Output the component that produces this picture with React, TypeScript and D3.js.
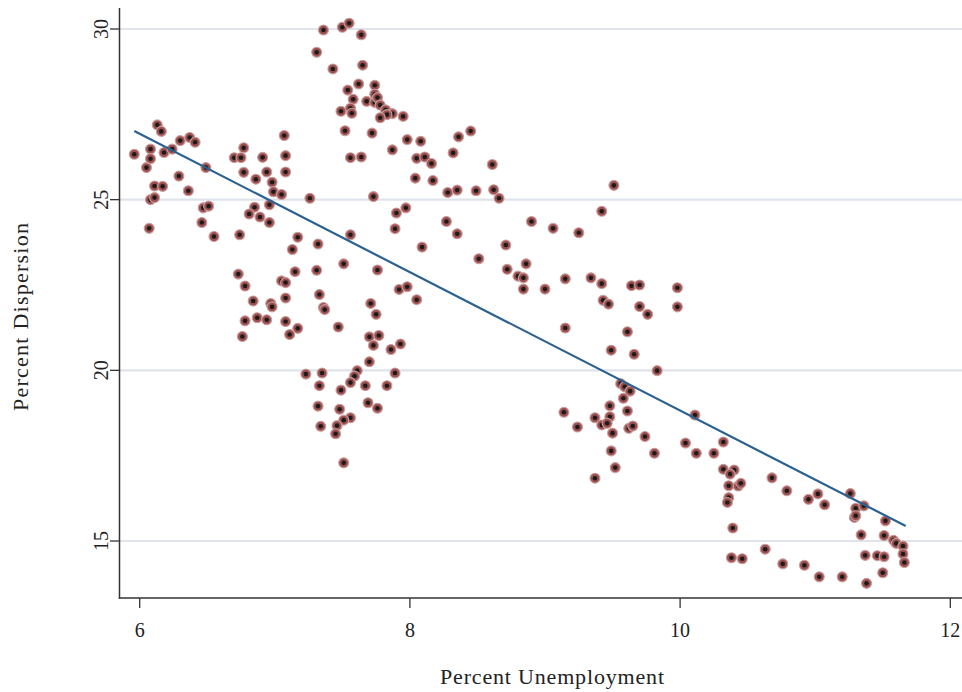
import React from "react";
import * as d3 from "d3";

const unemployment = [
  5.96, 6.05, 6.08, 6.08, 6.13, 6.16, 6.18, 6.24, 6.3, 6.37,
  6.41, 6.29, 6.49, 6.11, 6.17, 6.36, 6.08, 6.11, 6.07, 6.47,
  6.51, 6.46, 6.55, 6.7, 6.75, 6.77, 6.91, 7.07, 7.08, 7.08,
  6.77, 6.86, 6.94, 6.98, 6.99, 7.05, 6.96, 6.85, 6.81, 6.89,
  6.96, 6.74, 7.17, 7.13, 7.15, 6.73, 6.78, 7.05, 7.08, 6.84,
  7.08, 6.97, 6.98, 6.78, 6.87, 6.94, 7.08, 7.17, 6.76, 7.11,
  7.26, 7.31, 7.36, 7.5, 7.55, 7.64, 7.43, 7.65, 7.62, 7.74,
  7.54, 7.58, 7.68, 7.74, 7.74, 7.76, 7.78, 7.49, 7.56, 7.57,
  7.82, 7.87, 7.83, 7.78, 7.95, 7.52, 7.72, 7.87, 7.98, 8.08,
  8.36, 8.45, 8.32, 7.56, 7.64, 8.05, 8.11, 8.16, 8.04, 8.17,
  8.28, 8.35, 8.49, 7.73, 7.9, 7.97, 7.89, 8.27, 8.35, 8.09,
  8.51, 7.56, 7.32, 7.51, 7.76, 7.31, 7.92, 7.98, 8.05, 7.33,
  7.36, 7.37, 7.71, 7.75, 7.47, 7.7, 7.77, 7.73, 7.86, 7.93,
  7.7, 7.61, 7.59, 7.56, 7.23, 7.35, 7.89, 7.33, 7.49, 7.67,
  7.83, 7.32, 7.48, 7.69, 7.76, 7.34, 7.56, 7.51, 7.46, 7.45,
  7.51,
  8.61, 8.62, 8.66, 9.51, 9.42, 8.9, 9.06, 9.25, 8.71, 8.72,
  8.86, 8.8, 8.84, 8.84, 9.0, 9.15, 9.34, 9.42, 9.64, 9.7,
  9.98, 9.43, 9.47, 9.7, 9.76, 9.98, 9.15, 9.61, 9.49, 9.66,
  9.83, 9.56, 9.59, 9.63, 9.58, 9.48, 9.61, 9.14, 9.37, 9.48,
  9.42, 9.46, 9.24, 9.5, 9.62, 9.65, 9.74, 10.11, 10.04, 10.12,
  10.25, 10.32, 9.81, 9.49, 9.52, 9.37,
  10.32, 10.4, 10.37, 10.36, 10.43, 10.45, 10.36, 10.35, 10.39, 10.68,
  10.79, 10.95, 11.02, 11.07, 11.26, 11.3, 11.36, 11.29, 11.3, 11.52,
  11.34, 11.51, 11.58, 11.6, 11.65, 11.65, 11.66, 10.46, 10.38, 10.63,
  10.76, 10.92, 11.03, 11.2, 11.37, 11.46, 11.51, 11.5, 11.38,
];

const dispersion = [
  26.33, 25.94, 26.48, 26.2, 27.19, 27.0, 26.38, 26.48, 26.73, 26.82,
  26.68, 25.69, 25.94, 25.4, 25.39, 25.26, 25.0, 25.06, 24.16, 24.76,
  24.81, 24.33, 23.92, 26.23, 26.23, 26.52, 26.24, 26.88, 26.29, 25.81,
  25.8, 25.6, 25.81, 25.51, 25.23, 25.15, 24.85, 24.78, 24.58, 24.49,
  24.33, 23.97, 23.9, 23.54, 22.89, 22.82, 22.47, 22.62, 22.57, 22.03,
  22.12, 21.96, 21.86, 21.45, 21.54, 21.48, 21.43, 21.23, 20.99, 21.05,
  25.04, 29.32, 29.97, 30.05, 30.17, 29.83, 28.83, 28.94, 28.39, 28.35,
  28.21, 27.94, 27.88, 28.09, 27.85, 27.99, 27.77, 27.59, 27.68, 27.53,
  27.63, 27.52, 27.49, 27.4, 27.44, 27.02, 26.95, 26.46, 26.76, 26.71,
  26.84, 27.01, 26.37, 26.23, 26.25, 26.21, 26.25, 26.06, 25.63, 25.56,
  25.21, 25.28, 25.26, 25.09, 24.61, 24.76, 24.15, 24.36, 24.0, 23.61,
  23.27, 23.97, 23.7, 23.12, 22.94, 22.93, 22.37, 22.45, 22.07, 22.22,
  21.84, 21.78, 21.96, 21.64, 21.27, 20.98, 21.02, 20.73, 20.61, 20.77,
  20.25, 19.99, 19.83, 19.64, 19.89, 19.92, 19.92, 19.55, 19.42, 19.55,
  19.55, 18.95, 18.86, 19.05, 18.89, 18.36, 18.61, 18.54, 18.38, 18.14,
  17.29,
  26.03, 25.29, 25.04, 25.42, 24.66, 24.36, 24.16, 24.03, 23.67, 22.96,
  23.12, 22.76, 22.71, 22.38, 22.38, 22.68, 22.71, 22.54, 22.48, 22.5,
  22.42, 22.05, 21.94, 21.87, 21.64, 21.86, 21.24, 21.13, 20.59, 20.47,
  19.99, 19.61, 19.52, 19.39, 19.18, 18.96, 18.81, 18.77, 18.61, 18.64,
  18.4, 18.45, 18.34, 18.16, 18.3, 18.37, 18.06, 18.69, 17.87, 17.57,
  17.57, 17.9, 17.57, 17.64, 17.15, 16.84,
  17.1, 17.08, 16.96, 16.62, 16.61, 16.69, 16.27, 16.13, 15.38, 16.85,
  16.47, 16.22, 16.38, 16.06, 16.39, 15.96, 16.03, 15.69, 15.74, 15.59,
  15.18, 15.16, 15.02, 14.93, 14.85, 14.62, 14.37, 14.48, 14.51, 14.76,
  14.33, 14.29, 13.95, 13.95, 14.58, 14.57, 14.54, 14.07, 13.76,
];

const fitX = [5.96, 11.67];
const fitY = [27.01, 15.44];

const xTicks = [6, 8, 10, 12];
const yTicks = [15, 20, 25, 30];

const xTitle = "Percent Unemployment";
const yTitle = "Percent Dispersion";

const W = 962;
const H = 692;
const axisX = 119.5;
const axisY = 598;
const FONT = "'Liberation Serif', 'Times New Roman', serif";

export default function App() {
  const x = d3.scaleLinear().domain([6, 12]).range([139.7, 950.3]);
  const y = d3.scaleLinear().domain([15, 30]).range([541, 29]);
  const line = d3
    .line<number>()
    .x((d) => x(d))
    .y((_, i) => y(fitY[i]));
  const pts = unemployment.map((u, i) => [u, dispersion[i]]);

  return (
    <svg
      width={W}
      height={H}
      style={{ position: "absolute", left: 0, top: 0, background: "#fff" }}
      fontFamily={FONT}
    >
      {yTicks.map((t) => (
        <line
          key={"g" + t}
          x1={axisX}
          x2={W}
          y1={y(t)}
          y2={y(t)}
          stroke="#dfe4ec"
          strokeWidth={2.2}
        />
      ))}
      <line x1={axisX} x2={axisX} y1={8} y2={axisY + 0.75} stroke="#333" strokeWidth={1.5} />
      <line x1={axisX - 0.75} x2={W} y1={axisY} y2={axisY} stroke="#333" strokeWidth={1.5} />
      {yTicks.map((t) => (
        <g key={"y" + t}>
          <line x1={110} x2={axisX} y1={y(t)} y2={y(t)} stroke="#333" strokeWidth={1.3} />
          <text
            transform={`translate(108,${y(t)}) rotate(-90)`}
            textAnchor="middle"
            fontSize={20}
            fill="#222"
          >
            {t}
          </text>
        </g>
      ))}
      {xTicks.map((t) => (
        <g key={"x" + t}>
          <line x1={x(t)} x2={x(t)} y1={axisY} y2={608} stroke="#333" strokeWidth={1.3} />
          <text x={x(t)} y={637} textAnchor="middle" fontSize={20} fill="#222">
            {t}
          </text>
        </g>
      ))}
      <text
        x={552}
        y={684}
        textAnchor="middle"
        fontSize={22}
        fill="#222"
        textLength={224}
        lengthAdjust="spacing"
      >
        {xTitle}
      </text>
      <text
        transform={`translate(28,317) rotate(-90)`}
        textAnchor="middle"
        fontSize={22}
        fill="#222"
        textLength={188}
        lengthAdjust="spacing"
      >
        {yTitle}
      </text>
      {pts.map((p, i) => (
        <g key={"p" + i}>
          <circle
            cx={x(p[0])}
            cy={y(p[1])}
            r={5}
            fill="#9c4f4f"
            stroke="#c9a0a0"
            strokeWidth={1.1}
          />
          <circle cx={x(p[0])} cy={y(p[1])} r={2.3} fill="#1b1b1b" />
        </g>
      ))}
      <path d={line(fitX) || ""} fill="none" stroke="#2b6190" strokeWidth={2.2} />
    </svg>
  );
}
